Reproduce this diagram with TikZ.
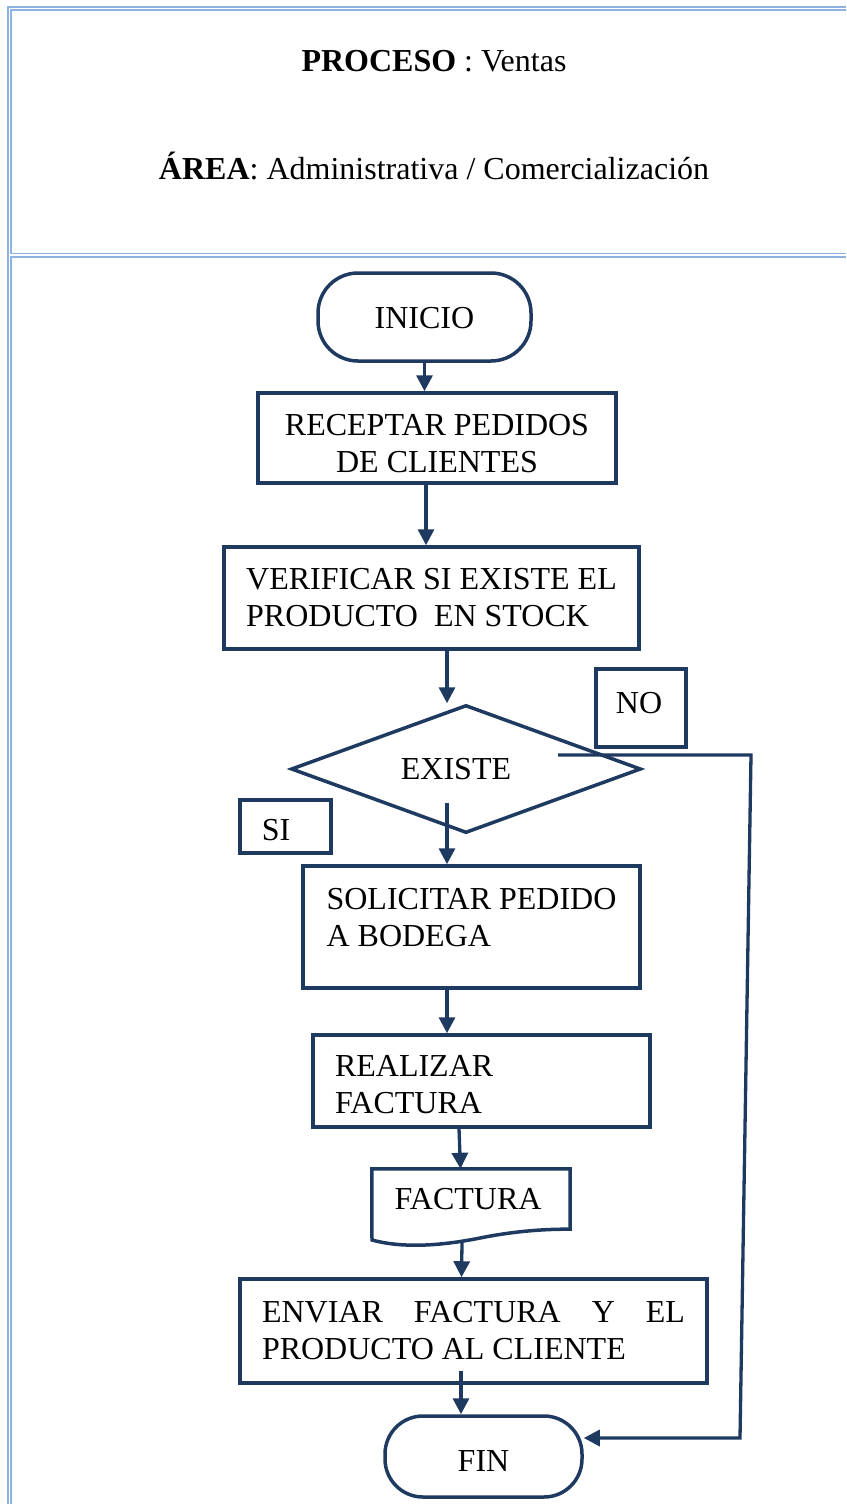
\documentclass[tikz,border=0pt]{standalone}
\usepackage{fontspec}
\setmainfont{Liberation Serif}
\usetikzlibrary{arrows.meta,shapes.geometric}
\definecolor{navy}{HTML}{1F3A60}
\definecolor{frameblue}{HTML}{8DB3E2}
\hyphenpenalty=10000
\newcommand{\dnstrut}[1]{\rule{0pt}{#1}}
\begin{document}
\begin{tikzpicture}[x=1pt,y=-1pt,
  every node/.style={font=\fontsize{32}{37}\selectfont, text=black},
  framel/.style={draw=frameblue, line width=1.7pt},
  shapeline/.style={draw=navy, line width=3.5pt},
  procbox/.style={shapeline, rectangle, inner ysep=0pt, inner xsep=22pt, align=left},
  termbox/.style={shapeline, rectangle, rounded corners=40pt, inner sep=0pt},
  tagbox/.style={shapeline, rectangle, inner sep=0pt},
  arr/.style={draw=navy, line width=3.3pt, -{Triangle[length=16pt,width=16pt]}}
]
\useasboundingbox (0,0) rectangle (846,1504);
% frame
\draw[framel] (846,6.8) -- (7.8,6.8) -- (7.8,1504);
\draw[framel] (846,9.8) -- (10.8,9.8) -- (10.8,253.6);
\draw[framel] (10.8,253.6) -- (846,253.6);
\draw[framel] (846,256.9) -- (10.8,256.9) -- (10.8,1504);
% titles
\node (proceso) at (434,61) {\textbf{PROCESO} : Ventas};
\node (area) at (434,165.5) {\textbf{ÁREA}: Administrativa / Comercialización};
% nodes
\node[termbox, minimum width=213pt, minimum height=88pt] (inicio) at (424.5,317) {\dnstrut{23.2pt}INICIO};
\node[procbox, minimum width=358pt, minimum height=90pt, align=center] (receptar) at (437,438) {\dnstrut{33.2pt}RECEPTAR PEDIDOS\\DE CLIENTES};
\node[procbox, inner xsep=0pt, minimum width=415pt, minimum height=102pt] (verificar) at (431.5,598) {VERIFICAR SI EXISTE EL\\PRODUCTO\ \ EN STOCK};
\node[diamond, shapeline, aspect=2.73, inner sep=0pt, minimum width=350pt, minimum height=128pt] (existe) at (466,769) {EXISTE\hspace*{20pt}};
\node[tagbox, minimum width=90pt, minimum height=78pt] (no) at (641,708) {NO\hspace*{4pt}\rule[-10pt]{0pt}{10pt}};
\node[tagbox, minimum width=91pt, minimum height=53pt] (si) at (285.5,826.5) {\dnstrut{29.2pt}SI\hspace*{19pt}};
\node[procbox, inner xsep=0pt, minimum width=337pt, minimum height=122pt] (solicitar) at (471.5,927) {SOLICITAR PEDIDO\\A BODEGA\\[-17pt]\mbox{}};
\node[procbox, minimum width=337pt, minimum height=92pt, text width=293pt] (realizar) at (481.5,1081) {\dnstrut{29.2pt}REALIZAR\\FACTURA};
\node[inner sep=0pt, minimum width=198pt, minimum height=60pt] (factura) at (471,1199) {FACTURA\hspace*{6pt}};
\draw[shapeline, line join=miter] (factura.north west) -- (factura.north east) -- (factura.south east)
  .. controls (545,1229) and (515,1231) .. (480,1238)
  .. controls (445,1245) and (405,1249) .. (372,1240) -- cycle;
\node[procbox, minimum width=467pt, minimum height=104pt, text width=423pt, align=justify] (enviar) at (473.5,1331) {ENVIAR FACTURA Y EL PRODUCTO AL CLIENTE};
\node[termbox, rounded corners=38pt, minimum width=197pt, minimum height=81pt] (fin) at (483.5,1456.5) {\dnstrut{29.2pt}FIN};
% connectors
\coordinate (nocorner) at (751,755);
\coordinate (fincorner) at (740,1438);
\draw[arr] (inicio.south) -- (inicio.south |- receptar.north);
\draw[arr] ([xshift=-11pt]receptar.south) -- ([xshift=-11pt]receptar.south |- verificar.north);
\draw[arr] ([xshift=15.5pt]verificar.south) -- ([xshift=15.5pt]verificar.south |- existe.north);
\draw[arr] ([xshift=-19pt,yshift=-34pt]existe.center) -- ([xshift=-24.5pt]solicitar.north);
\draw[arr] ([xshift=92pt,yshift=14pt]existe.center) -- (nocorner) -- (fincorner) -- ([yshift=18.5pt]fin.east);
\draw[arr] ([xshift=-24.5pt]solicitar.south) -- ([xshift=-24.5pt]solicitar.south |- realizar.north);
\draw[arr] ([xshift=-22.5pt]realizar.south) -- ([xshift=-21pt]realizar.south |- factura.north);
\draw[arr] ([xshift=-9pt,yshift=-14pt]factura.south) -- ([xshift=-12pt]enviar.north);
\draw[arr] ([xshift=-12.5pt,yshift=14pt]enviar.south) -- ([xshift=-22.5pt]fin.north);
\end{tikzpicture}
\end{document}
